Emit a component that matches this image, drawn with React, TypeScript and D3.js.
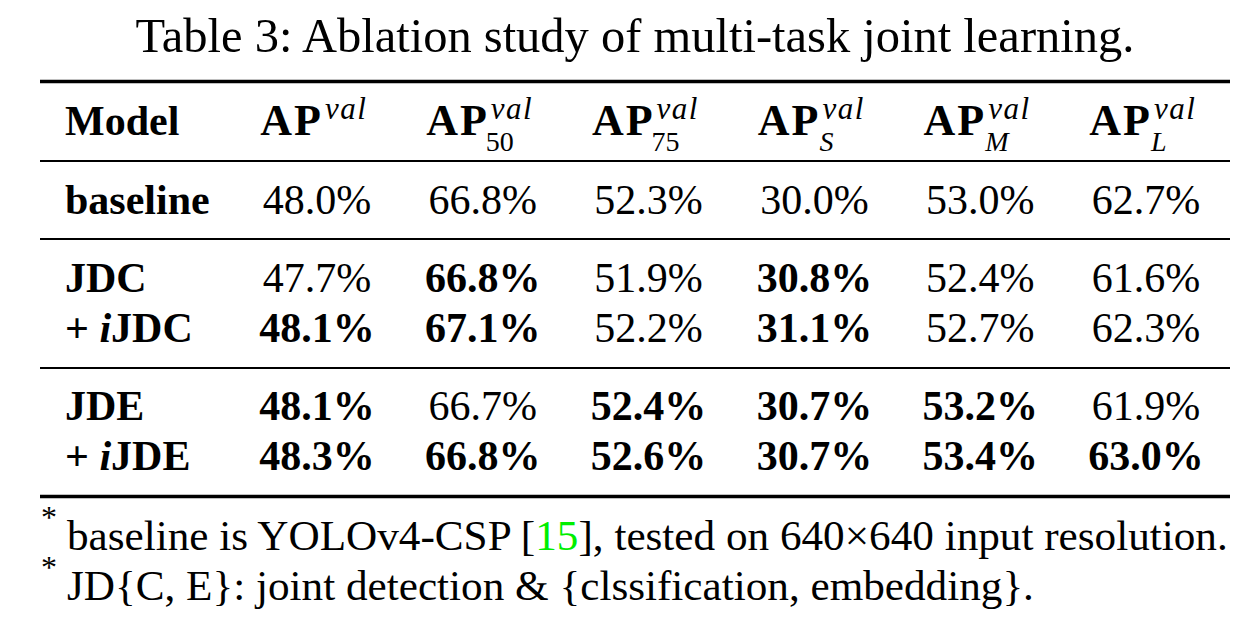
import React from "react";
import * as d3 from "d3";

const title = "Table 3: Ablation study of multi-task joint learning.";
const columns = ["AP", "AP50", "AP75", "APS", "APM", "APL"];
const colSubs = ["", "50", "75", "S", "M", "L"];
const colSubItalic = [false, false, false, true, true, true];
const models = ["baseline", "JDC", "iJDC", "JDE", "iJDE"];
const modelPlus = [false, false, true, false, true];
const modelGroup = [0, 1, 1, 2, 2];
const apVal = [48.0, 47.7, 48.1, 48.1, 48.3];
const ap50Val = [66.8, 66.8, 67.1, 66.7, 66.8];
const ap75Val = [52.3, 51.9, 52.2, 52.4, 52.6];
const apSVal = [30.0, 30.8, 31.1, 30.7, 30.7];
const apMVal = [53.0, 52.4, 52.7, 53.2, 53.4];
const apLVal = [62.7, 61.6, 62.3, 61.9, 63.0];
const boldFlags = [
  [false, false, false, false, false, false],
  [false, true, false, true, false, false],
  [true, true, false, true, false, false],
  [true, false, true, true, true, false],
  [true, true, true, true, true, true],
];
const footnote1a = "baseline is YOLOv4-CSP [";
const footnote1ref = "15";
const footnote1b = "], tested on 640\u00d7640 input resolution.";
const footnote2 = "JD{C, E}: joint detection & {clssification, embedding}.";

const FONT = "'Liberation Serif', 'Times New Roman', serif";

export default function App() {
  const W = 1236, H = 624;
  const series = [apVal, ap50Val, ap75Val, apSVal, apMVal, apLVal];
  const x = d3.scalePoint<string>().domain(columns).range([317, 1146]);
  const left = 40, right = 1230;
  const headerY = 135;
  const groupStart = [214, 292, 420];
  const rowStep = 50;
  const rowY = models.map((_, i) => {
    const g = modelGroup[i];
    const k = modelGroup.slice(0, i).filter((v) => v === g).length;
    return groupStart[g] + k * rowStep;
  });
  const rules = [
    { y: 81.5, w: 3.5 },
    { y: 161, w: 2 },
    { y: 239, w: 2 },
    { y: 368, w: 2 },
    { y: 496.5, w: 3.5 },
  ];
  const fmt = d3.format(".1f");
  const fs = 42;

  return (
    <svg
      width={W}
      height={H}
      style={{ position: "absolute", left: 0, top: 0, background: "#fff" }}
      fontFamily={FONT}
    >
      <rect width={W} height={H} fill="#fff" />
      <text x={635} y={52} fontSize={48.5} textAnchor="middle" fill="#000">
        {title}
      </text>
      {rules.map((r, i) => (
        <line key={i} x1={left} x2={right} y1={r.y} y2={r.y} stroke="#000" strokeWidth={r.w} />
      ))}
      <text x={65} y={headerY} fontSize={fs} fontWeight="bold" fill="#000">
        Model
      </text>
      {columns.map((c, j) => {
        const cx = x(c)!;
        return (
          <g key={c}>
            <text x={cx + 6} y={headerY} fontSize={44} fontWeight="bold" textAnchor="end" letterSpacing={2} fill="#000">
              AP
            </text>
            <text x={cx + 8} y={119} fontSize={31} fontStyle="italic" fill="#000" letterSpacing={1.5}>
              val
            </text>
            {colSubs[j] && (
              <text
                x={cx + (colSubItalic[j] ? 5 : 3)}
                y={151}
                fontSize={28}
                fontStyle={colSubItalic[j] ? "italic" : "normal"}
                fill="#000"
              >
                {colSubs[j]}
              </text>
            )}
          </g>
        );
      })}
      {models.map((m, i) => (
        <g key={m}>
          <text x={65} y={rowY[i]} fontSize={fs} fontWeight="bold" fill="#000">
            {modelPlus[i] ? (
              <>
                <tspan>+ </tspan>
                <tspan fontStyle="italic">{m.slice(0, 1)}</tspan>
                <tspan>{m.slice(1)}</tspan>
              </>
            ) : (
              m
            )}
          </text>
          {columns.map((c, j) => (
            <text
              key={c}
              x={x(c)!}
              y={rowY[i]}
              fontSize={fs}
              fontWeight={boldFlags[i][j] ? "bold" : "normal"}
              textAnchor="middle"
              fill="#000"
            >
              {fmt(series[j][i])}%
            </text>
          ))}
        </g>
      ))}
      <text x={41} y={528} fontSize={32} fill="#000">*</text>
      <text x={67} y={550} fontSize={43.2} fill="#000">
        <tspan>{footnote1a}</tspan>
        <tspan fill="#00ee00">{footnote1ref}</tspan>
        <tspan>{footnote1b}</tspan>
      </text>
      <text x={41} y={578} fontSize={32} fill="#000">*</text>
      <text x={67} y={600} fontSize={43.2} fill="#000">
        {footnote2}
      </text>
    </svg>
  );
}
